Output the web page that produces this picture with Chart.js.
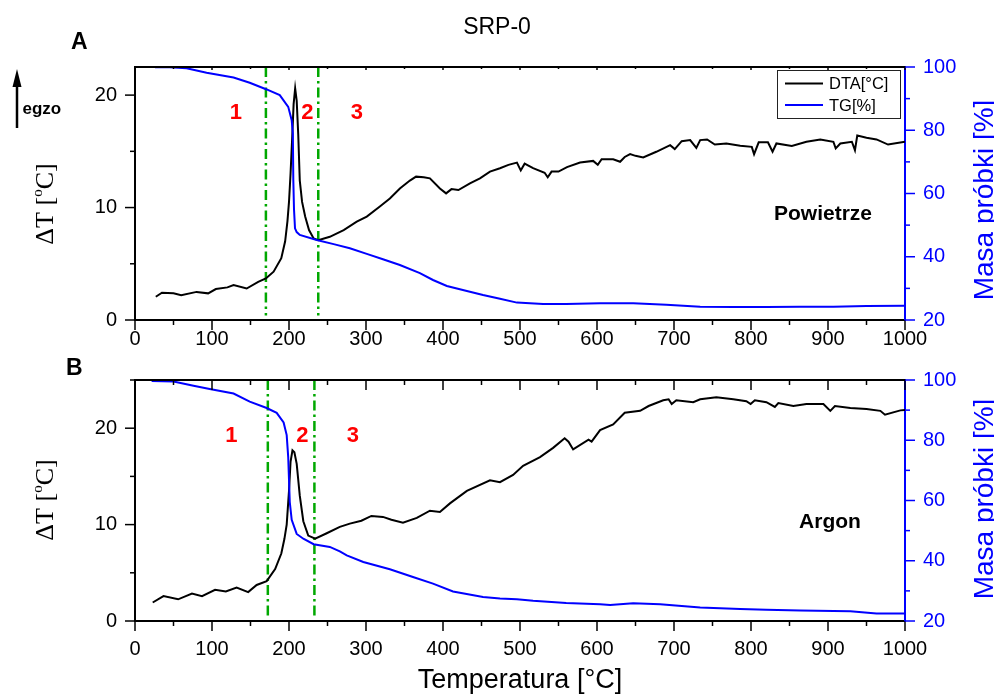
<!DOCTYPE html>
<html><head><meta charset="utf-8">
<script src="https://cdn.jsdelivr.net/npm/chart.js@4.4.1/dist/chart.umd.min.js"></script>
<style>
html,body{margin:0;padding:0;background:#fff;width:994px;height:694px;overflow:hidden}
canvas{position:absolute;left:0}
#ca{top:0}
#cb{top:350px}
</style></head><body>
<canvas id="ca" width="994" height="350"></canvas>
<canvas id="cb" width="994" height="344"></canvas>
<script>
// ---------- data (temperature °C, value) ----------
const airDta = [[27,2.07],[35,2.43],[50,2.37],[60,2.2],[80,2.5],[95,2.37],[105,2.75],[120,2.9],[128,3.1],[145,2.8],[160,3.4],[170,3.7],[180,4.3],[190,5.5],[195,7.0],[198,8.8],[200,10.5],[202,13],[204,16],[206,19.2],[208,20.6],[210,19.5],[212,16.5],[214,12.4],[217,10.5],[221,9.2],[226,8.0],[232,7.26],[238,7.1],[253,7.4],[271,8.0],[288,8.74],[301,9.2],[318,10.1],[331,10.8],[344,11.7],[357,12.4],[365,12.75],[375,12.7],[383,12.6],[396,11.7],[404,11.26],[411,11.64],[420,11.56],[435,12.15],[448,12.6],[461,13.2],[474,13.5],[485,13.8],[496,14.0],[501,13.3],[506,13.9],[517,13.5],[532,13.1],[536,12.7],[541,13.2],[550,13.2],[561,13.6],[578,14.0],[595,14.15],[601,13.8],[606,14.3],[621,14.3],[630,14.07],[636,14.5],[643,14.75],[650,14.6],[660,14.46],[677,14.96],[695,15.55],[701,15.2],[710,15.9],[721,16.0],[729,15.3],[734,16.0],[743,16.06],[753,15.6],[768,15.7],[786,15.5],[801,15.4],[804,14.75],[810,15.8],[822,15.8],[828,14.96],[833,15.7],[853,15.47],[872,15.85],[890,16.06],[907,15.85],[910,15.26],[916,15.7],[931,15.85],[935,15.1],[938,16.4],[950,16.2],[963,16.06],[978,15.6],[1000,15.85]];
const airTg = [[26,99.9],[45,99.9],[67,99.6],[93,98.2],[128,96.7],[149,95.0],[171,92.9],[188,91.1],[199,87.4],[203.5,83.2],[205,79.0],[205.6,64.3],[206.5,55],[207.8,49.0],[210,47.8],[214,46.9],[236,45.3],[258,44.0],[279,42.7],[301,40.9],[322,39.2],[344,37.4],[370,34.8],[387,32.65],[405,30.75],[431,29.2],[452,27.9],[474,26.7],[496,25.5],[530,25.05],[560,25.05],[604,25.3],[647,25.3],[690,24.85],[734,24.2],[777,24.1],[820,24.1],[863,24.2],[907,24.2],[950,24.4],[1000,24.5]];
const argonDta = [[23,1.92],[37,2.58],[56,2.25],[74,2.85],[87,2.58],[104,3.24],[118,3.07],[132,3.47],[147,3.0],[158,3.74],[171,4.14],[182,5.39],[190,7.0],[194,8.5],[197,10.0],[200,13.5],[202,16.5],[204.5,17.7],[207,17.5],[210,16.3],[214,13.0],[218.6,10.35],[225,8.86],[234,8.53],[249,9.1],[266,9.76],[279,10.1],[294,10.4],[307,10.9],[322,10.8],[333,10.5],[348,10.2],[366,10.7],[383,11.44],[396,11.3],[409,12.2],[431,13.5],[461,14.6],[474,14.4],[491,15.15],[504,16.1],[526,17.0],[543,17.96],[558,18.95],[563,18.6],[569,17.8],[589,18.8],[593,18.6],[604,19.8],[621,20.4],[636,21.6],[656,21.8],[667,22.3],[686,22.9],[693,23.0],[697,22.5],[703,22.9],[725,22.7],[734,23.0],[755,23.2],[777,23.0],[794,22.8],[799.5,22.5],[805,22.9],[820,22.7],[831,22.2],[835.5,22.6],[855,22.3],[872,22.5],[894,22.5],[903,21.8],[909,22.3],[929,22.1],[950,22.0],[968,21.8],[974,21.4],[994,21.85],[1000,21.9]];
const argonTg = [[21.6,99.7],[50,99.5],[76,98.1],[97,97.0],[128,95.5],[149,92.8],[171,90.7],[184,89.1],[193,85.9],[197,81.7],[199,74.3],[201,59.5],[203.5,53.6],[210,48.9],[218.6,47.3],[232,45.5],[253,44.6],[266,43.1],[275,41.8],[296.5,39.6],[331,37.2],[361,34.6],[387,32.4],[413,29.8],[452,28.0],[474,27.5],[496,27.2],[517,26.7],[560,26.0],[604,25.6],[617,25.3],[647,25.9],[682,25.6],[734,24.5],[786,24.0],[820,23.7],[864,23.5],[929,23.2],[963,22.5],[1000,22.5]];
const airStageBounds = [170, 238];      // green dash-dot lines, °C
const argonStageBounds = [172.5, 233];
const xTicks = [0,100,200,300,400,500,600,700,800,900,1000];
const stageLabels = ['1','2','3'];

// ---------- styling ----------
const SANS = "'Liberation Sans', Arial, Helvetica, sans-serif";
const SERIF = "'Liberation Serif', 'Times New Roman', serif";
const TICK = 20;
const pts = a => a.map(p => ({x:p[0], y:p[1]}));

function drawRich(ctx, parts, x, y){
  let w = 0;
  parts.forEach(p => { ctx.font = p.f; p.w = ctx.measureText(p.t).width; w += p.w; });
  let cx = x - w/2;
  ctx.textAlign = 'left'; ctx.textBaseline = 'alphabetic';
  parts.forEach(p => { ctx.font = p.f; ctx.fillText(p.t, cx, y + (p.dy||0)); cx += p.w; });
}

const decor = {
  id:'decor',
  afterDraw(chart, args, o){
    const ctx = chart.ctx, a = chart.chartArea, xs = chart.scales.x, yl = chart.scales.y, yr = chart.scales.y1;
    const seg = (x1,y1,x2,y2) => { ctx.beginPath(); ctx.moveTo(x1,y1); ctx.lineTo(x2,y2); ctx.stroke(); };
    ctx.save();
    // top frame
    ctx.strokeStyle = '#000'; ctx.lineWidth = 2;
    seg(a.left-1, a.top, a.right+1, a.top);
    ctx.lineWidth = 1.5;
    for (let v = 0; v <= 1000; v += 50){
      const p = xs.getPixelForValue(v), maj = v % 100 === 0;
      seg(p, a.bottom, p, a.bottom + (maj ? 10 : 5));
      seg(p, a.top, p, a.top + (maj ? o.topTick[0] : o.topTick[1]));
    }
    for (let v = 0; v <= yl.max + 1e-9; v += 5){
      const p = yl.getPixelForValue(v);
      seg(a.left - (v % 10 === 0 ? 10 : 5), p, a.left, p);
    }
    ctx.strokeStyle = '#0000ff';
    for (let v = 20; v <= 100; v += 10){
      const p = yr.getPixelForValue(v);
      seg(a.right, p, a.right + (v % 20 === 0 ? 10 : 5), p);
    }
    // axis titles
    ctx.fillStyle = '#000';
    ctx.save();
    ctx.translate(53, o.ltY); ctx.rotate(-Math.PI/2);
    drawRich(ctx, [{t:'\u0394T [', f:`26px ${SERIF}`},{t:'o', f:`15px ${SERIF}`, dy:-11},{t:'C]', f:`26px ${SERIF}`}], 0, 0);
    ctx.restore();
    ctx.save();
    ctx.fillStyle = '#0000ff';
    ctx.translate(993, o.rtY); ctx.rotate(-Math.PI/2);
    ctx.font = `28px ${SANS}`; ctx.textAlign = 'center'; ctx.textBaseline = 'alphabetic';
    ctx.fillText('Masa próbki [%]', 0, 0);
    ctx.restore();
    // panel letter
    ctx.fillStyle = '#000'; ctx.font = `bold 23px ${SANS}`; ctx.textAlign = 'left'; ctx.textBaseline = 'alphabetic';
    ctx.fillText(o.letter.t, o.letter.x, o.letter.y);
    // stage numbers
    ctx.fillStyle = '#ff0000'; ctx.font = `bold 22px ${SANS}`; ctx.textAlign = 'center';
    o.stages.forEach((s, i) => ctx.fillText(stageLabels[i], xs.getPixelForValue(s[0]), yl.getPixelForValue(s[1]) + 8));
    // atmosphere label
    ctx.fillStyle = '#000'; ctx.font = `bold 21px ${SANS}`;
    ctx.fillText(o.atm.t, xs.getPixelForValue(o.atm.x), yl.getPixelForValue(o.atm.y));
    // egzo arrow
    if (o.egzo){
      ctx.strokeStyle = '#000'; ctx.lineWidth = 2.5;
      seg(17, 128, 17, 84);
      ctx.beginPath(); ctx.moveTo(17, 69); ctx.lineTo(12.5, 87); ctx.lineTo(21.5, 87); ctx.closePath(); ctx.fill();
      ctx.font = `bold 17px ${SANS}`; ctx.textAlign = 'left';
      ctx.fillText('egzo', 22.5, 113.5);
    }
    // legend
    if (o.legend){
      ctx.strokeStyle = '#222'; ctx.lineWidth = 1;
      ctx.strokeRect(777.5, 70.5, 123, 48);
      chart.data.datasets.filter(d => d.inLegend).forEach((d, i) => {
        const y = 83.5 + i*21.5;
        ctx.strokeStyle = d.borderColor; ctx.lineWidth = 2; seg(785, y, 823, y);
        ctx.fillStyle = '#000'; ctx.font = `16.5px ${SANS}`; ctx.textAlign = 'left'; ctx.textBaseline = 'middle';
        ctx.fillText(d.label, 829, y + 1);
      });
    }
    ctx.restore();
  }
};

function makeConfig(p){
  const green = t => ({label:'', data:[{x:t, y:p.ymax}, {x:t, y:0.4}], yAxisID:'y', borderColor:'#00a800', borderWidth:2.5, borderDash:[10,4,2.5,4], pointRadius:0, order:3});
  return {
    type:'line',
    data:{datasets:[
      green(p.bounds[0]), green(p.bounds[1]),
      {label:'DTA[°C]', inLegend:true, data:pts(p.dta), yAxisID:'y', borderColor:'#000000', borderWidth:2, pointRadius:0, order:2},
      {label:'TG[%]', inLegend:true, data:pts(p.tg), yAxisID:'y1', borderColor:'#0000ff', borderWidth:2, pointRadius:0, order:1}
    ]},
    plugins:[decor],
    options:{
      responsive:false, animation:false, devicePixelRatio:1,
      layout:{padding:{top:p.padTop, left:0, right:0, bottom:0}},
      elements:{line:{tension:0}},
      plugins:{
        legend:{display:false}, tooltip:{enabled:false},
        title: p.title ? {display:true, text:p.title, color:'#000', font:{family:SANS, size:23, weight:'normal'}, padding:{top:14, bottom:25.4}} : {display:false},
        decor: p.decor
      },
      scales:{
        x:{type:'linear', min:0, max:1000,
          afterBuildTicks(s){ s.ticks = xTicks.map(v => ({value:v})); },
          afterFit(s){ s.height = p.xH; },
          ticks:{font:{family:SANS, size:TICK}, color:'#000', padding:p.xPad, maxRotation:0, autoSkip:false, callback:v => String(v)},
          grid:{display:false, drawTicks:false}, border:{display:true, color:'#000', width:2},
          title: p.xTitle ? {display:true, text:p.xTitle, color:'#000', font:{family:SANS, size:27, lineHeight:1}, padding:{top:0, bottom:0}} : {display:false}
        },
        y:{position:'left', min:0, max:p.ymax,
          afterFit(s){ s.width = 135; },
          ticks:{stepSize:10, includeBounds:false, font:{family:SANS, size:TICK}, color:'#000', padding:18},
          grid:{display:false, drawTicks:false}, border:{display:true, color:'#000', width:2}
        },
        y1:{position:'right', min:20, max:100,
          afterFit(s){ s.width = 89; },
          ticks:{stepSize:20, font:{family:SANS, size:TICK}, color:'#0000ff', padding:18},
          grid:{display:false, drawTicks:false}, border:{display:true, color:'#0000ff', width:2}
        }
      }
    }
  };
}

new Chart(document.getElementById('ca'), makeConfig({
  title:'SRP-0', padTop:0, xH:30, xPad:7, ymax:22.5, dta:airDta, tg:airTg, bounds:airStageBounds,
  decor:{topTick:[3,2], ltY:204, rtY:200, letter:{t:'A', x:71, y:49},
    stages:[[131,18.55],[224,18.55],[288,18.55]], atm:{t:'Powietrze', x:893.5, y:8.89}, egzo:true, legend:true}
}));
new Chart(document.getElementById('cb'), makeConfig({
  title:null, padTop:19, xH:73, xPad:16, ymax:25, dta:argonDta, tg:argonTg, bounds:argonStageBounds, xTitle:'Temperatura [°C]',
  decor:{topTick:[10,5], ltY:150, rtY:149, letter:{t:'B', x:66, y:25},
    stages:[[125,19.4],[217.5,19.4],[283,19.4]], atm:{t:'Argon', x:902.6, y:9.69}, egzo:false, legend:false}
}));
</script>
</body></html>
